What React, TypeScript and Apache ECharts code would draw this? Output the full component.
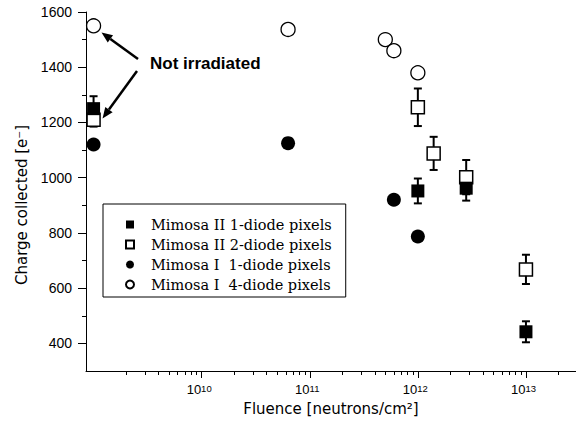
import React, { useEffect, useRef } from 'react';
import * as echarts from 'echarts';

// ---- data ----
const seriesNames = [
  'Mimosa II 1-diode pixels',
  'Mimosa II 2-diode pixels',
  'Mimosa I  1-diode pixels',
  'Mimosa I  4-diode pixels',
];

const mimosaII1X = [1e9, 1e12, 2.8e12, 1e13];
const mimosaII1Y = [1250, 952, 962, 442];
const mimosaII1Err = [45, 45, 45, 38];

const mimosaII2X = [1e9, 1e12, 1.4e12, 2.8e12, 1e13];
const mimosaII2Y = [1210, 1255, 1088, 1002, 668];
const mimosaII2Err = [25, 68, 60, 62, 53];

const mimosaI1X = [1e9, 6.3e10, 6e11, 1e12];
const mimosaI1Y = [1120, 1125, 920, 787];

const mimosaI4X = [1e9, 6.3e10, 5e11, 6e11, 1e12];
const mimosaI4Y = [1550, 1537, 1500, 1460, 1380];

const xMajorTicks = [1e10, 1e11, 1e12, 1e13];
const xMinorMantissas = [2, 3, 4, 5, 6, 7, 8, 9];
const xMinorDecades = [1e9, 1e10, 1e11, 1e12, 1e13];
const yMajorTicks = [400, 600, 800, 1000, 1200, 1400, 1600];
const yMinorTicks = [500, 700, 900, 1100, 1300, 1500];

const X_MIN = Math.pow(10, 8.93);
const X_MAX = Math.pow(10, 13.463);
const Y_MIN = 300;
const Y_MAX = 1600;

const xMinorTicks: number[] = [];
xMinorDecades.forEach((d) =>
  xMinorMantissas.forEach((m) => {
    const v = d * m;
    if (v > X_MIN && v < X_MAX) xMinorTicks.push(v);
  })
);

const zip = (xs: number[], ys: number[]) => xs.map((x, i) => [x, ys[i]]);
const zip3 = (xs: number[], ys: number[], es: number[]) => xs.map((x, i) => [x, ys[i], es[i]]);

const errorBarRender = (params: any, api: any) => {
  const x = api.value(0);
  const y = api.value(1);
  const e = api.value(2);
  const top = api.coord([x, y + e]);
  const bot = api.coord([x, y - e]);
  const hw = 4;
  const style = { stroke: '#000', lineWidth: 2 };
  return {
    type: 'group',
    children: [
      { type: 'line', shape: { x1: top[0], y1: top[1], x2: bot[0], y2: bot[1] }, style },
      { type: 'line', shape: { x1: top[0] - hw, y1: top[1], x2: top[0] + hw, y2: top[1] }, style },
      { type: 'line', shape: { x1: bot[0] - hw, y1: bot[1], x2: bot[0] + hw, y2: bot[1] }, style },
    ],
  };
};

const arrow = (tx: number, ty: number, hx: number, hy: number) => {
  const dx = hx - tx;
  const dy = hy - ty;
  const len = Math.sqrt(dx * dx + dy * dy);
  const ux = dx / len;
  const uy = dy / len;
  const hl = 11;
  const hwid = 4.5;
  const bx = hx - hl * ux;
  const by = hy - hl * uy;
  const nx = -uy;
  const ny = ux;
  return [
    { type: 'line', shape: { x1: tx, y1: ty, x2: bx, y2: by }, style: { stroke: '#000', lineWidth: 2.5 } },
    {
      type: 'polygon',
      shape: { points: [[hx, hy], [bx + hwid * nx, by + hwid * ny], [bx - hwid * nx, by - hwid * ny]] },
      style: { fill: '#000' },
    },
  ];
};

export default function App() {
  const ref = useRef<HTMLDivElement>(null);
  useEffect(() => {
    if (!ref.current) return;
    const chart = echarts.init(ref.current, undefined, { renderer: 'svg' });
    const axisFont = { fontFamily: '"Liberation Sans", Arial, sans-serif', color: '#000' };
    chart.setOption({
      animation: false,
      backgroundColor: '#fff',
      grid: { left: 86, right: 0, top: 12, bottom: 52, containLabel: false, outerBoundsMode: 'none' },
      legend: {
        data: seriesNames,
        orient: 'vertical',
        left: 103,
        top: 204,
        padding: [13, 14, 5, 22],
        itemGap: 5,
        itemWidth: 8,
        itemHeight: 8,
        selectedMode: false,
        backgroundColor: '#fff',
        borderColor: '#000',
        borderWidth: 1,
        borderRadius: 0,
        textStyle: {
          fontFamily: '"DejaVu Serif", serif',
          fontSize: 14.5,
          color: '#000',
          lineHeight: 15,
          padding: [0, 0, 0, 12],
        },
      },
      xAxis: [
        {
          type: 'log',
          logBase: 10,
          min: X_MIN,
          max: X_MAX,
          position: 'bottom',
          axisLine: { show: true, lineStyle: { color: '#000', width: 1 } },
          axisTick: { show: true, customValues: xMajorTicks, length: 7, lineStyle: { color: '#000', width: 1 } },
          axisLabel: {
            customValues: xMajorTicks,
            margin: 12,
            formatter: (v: number) => `{b|10}{s|${Math.round(Math.log10(v))}}`,
            rich: {
              b: { ...axisFont, fontSize: 13, lineHeight: 13, padding: [5, 0, 0, 0], verticalAlign: 'bottom' },
              s: { ...axisFont, fontSize: 9.5, lineHeight: 9, padding: [0, 5, 0, 0], verticalAlign: 'top' },
            },
          },
          splitLine: { show: false },
          minorTick: { show: false },
          name: 'Fluence [neutrons/cm²]',
          nameLocation: 'middle',
          nameGap: 30,
          nameTextStyle: { fontFamily: '"DejaVu Sans", sans-serif', fontSize: 15, color: '#000' },
        },
        {
          type: 'log',
          logBase: 10,
          min: X_MIN,
          max: X_MAX,
          position: 'bottom',
          axisLine: { show: false },
          axisTick: { show: true, customValues: xMinorTicks, length: 4, lineStyle: { color: '#000', width: 1 } },
          axisLabel: { show: false },
          splitLine: { show: false },
        },
      ],
      yAxis: [
        {
          type: 'value',
          min: Y_MIN,
          max: Y_MAX,
          position: 'left',
          axisLine: { show: true, lineStyle: { color: '#000', width: 1 } },
          axisTick: { show: true, customValues: yMajorTicks, length: 8, lineStyle: { color: '#000', width: 1 } },
          axisLabel: {
            customValues: yMajorTicks,
            margin: 14,
            ...axisFont,
            fontSize: 14,
            formatter: (v: number) => String(v),
          },
          splitLine: { show: false },
          name: 'Charge collected [e⁻]',
          nameLocation: 'middle',
          nameGap: 57,
          nameTextStyle: {
            fontFamily: '"DejaVu Sans", sans-serif',
            fontSize: 15,
            color: '#000',
            padding: [0, 27, 0, 0],
          },
        },
        {
          type: 'value',
          min: Y_MIN,
          max: Y_MAX,
          position: 'left',
          axisLine: { show: false },
          axisTick: { show: true, customValues: yMinorTicks, length: 4, lineStyle: { color: '#000', width: 1 } },
          axisLabel: { show: false },
          splitLine: { show: false },
        },
      ],
      series: [
        {
          type: 'custom',
          xAxisIndex: 0,
          yAxisIndex: 0,
          renderItem: errorBarRender,
          encode: { x: 0, y: 1 },
          data: zip3(mimosaII2X, mimosaII2Y, mimosaII2Err),
          silent: true,
        },
        {
          type: 'scatter',
          name: seriesNames[1],
          xAxisIndex: 0,
          yAxisIndex: 0,
          symbol: 'rect',
          symbolSize: 13,
          itemStyle: { color: '#fff', borderColor: '#000', borderWidth: 1.5, opacity: 1 },
          data: zip(mimosaII2X, mimosaII2Y),
        },
        {
          type: 'custom',
          xAxisIndex: 0,
          yAxisIndex: 0,
          renderItem: errorBarRender,
          encode: { x: 0, y: 1 },
          data: zip3(mimosaII1X, mimosaII1Y, mimosaII1Err),
          silent: true,
        },
        {
          type: 'scatter',
          name: seriesNames[0],
          xAxisIndex: 0,
          yAxisIndex: 0,
          symbol: 'rect',
          symbolSize: 13,
          itemStyle: { color: '#000', opacity: 1 },
          data: zip(mimosaII1X, mimosaII1Y),
        },
        {
          type: 'scatter',
          name: seriesNames[2],
          xAxisIndex: 0,
          yAxisIndex: 0,
          symbol: 'circle',
          symbolSize: 14,
          itemStyle: { color: '#000', opacity: 1 },
          data: zip(mimosaI1X, mimosaI1Y),
        },
        {
          type: 'scatter',
          name: seriesNames[3],
          xAxisIndex: 0,
          yAxisIndex: 0,
          symbol: 'circle',
          symbolSize: 14,
          itemStyle: { color: '#fff', borderColor: '#000', borderWidth: 1.3, opacity: 1 },
          data: zip(mimosaI4X, mimosaI4Y),
        },
      ],
      graphic: [
        {
          type: 'text',
          x: 150,
          y: 63,
          style: {
            text: 'Not irradiated',
            font: 'bold 17px "Liberation Sans", Arial, sans-serif',
            fill: '#000',
            verticalAlign: 'middle',
            align: 'left',
          },
        },
        ...arrow(138, 59, 101.5, 32.5),
        ...arrow(137, 71, 102.5, 118.5),
      ],
    });
    return () => chart.dispose();
  }, []);
  return <div ref={ref} style={{ position: 'fixed', left: 0, top: 0, width: 576, height: 423 }} />;
}
